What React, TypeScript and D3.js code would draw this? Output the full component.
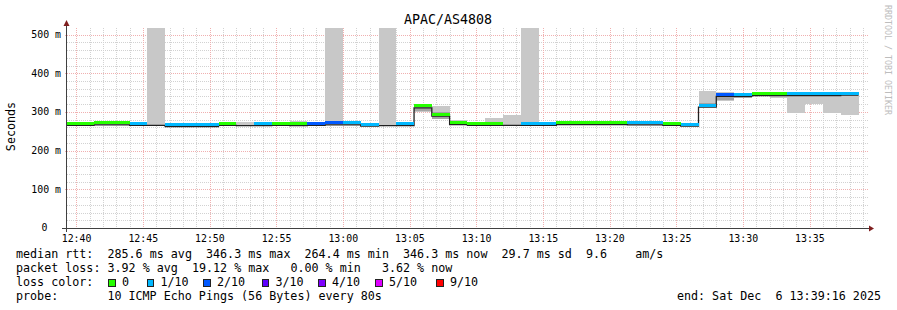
import React from 'react';
import * as d3 from 'd3';

// ---------- data ----------
const TITLE = 'APAC/AS4808';
const START = new Date(2025, 11, 6, 12, 39, 16);
const END = new Date(2025, 11, 6, 13, 39, 16);
const FIRST_STEP = new Date(2025, 11, 6, 12, 38, 40);
const STEP_SECONDS = 80;
const Y_MAX = 517;

// median rtt (ms) per 80 s step
const medians = [
  268, 268, 269, 269, 268, 268, 265, 265, 265, 268,
  267, 267, 268, 267, 268, 269, 269, 266, 267, 267,
  313, 292, 270, 268, 268, 268, 268, 268, 270, 270,
  270, 270, 269, 269, 268, 266, 315, 343, 343, 345,
  345, 345, 345, 345, 346.3,
];
// loss colour index per step (null = band hidden)
const lossIdx: (number | null)[] = [
  0, 0, 0, 0, 1, null, 1, 1, 1, 0,
  null, 1, 0, 0, 2, 2, 1, 1, null, 1,
  0, 0, 0, 0, 0, null, 1, 1, 0, 0,
  0, 0, 1, 1, 0, 1, 1, 2, 1, 0,
  0, 1, 1, 1, 1,
];
// smoke range (ms)
const smokeLo = [
  266, 266, 266, 266, 265, 265, 263, 263, 263, 265,
  265, 265, 265, 265, 265, 265, 265, 264, 265, 265,
  299, 282, 267, 266, 266, 266, 266, 266, 267, 267,
  267, 267, 266, 266, 266, 264, 312, 328, 335, 343,
  335, 298, 320, 298, 293,
];
const smokeHi = [
  272, 274, 274, 272, 271, 600, 270, 270, 270, 272,
  274, 275, 275, 276, 273, 600, 272, 271, 600, 271,
  317, 316, 280, 272, 285, 293, 600, 272, 273, 277,
  277, 273, 272, 272, 271, 268, 355, 352, 345, 347,
  347, 347, 347, 347, 347,
];
const innerLo: (number | null)[] = [
  null, null, null, null, null, null, null, null, null, null,
  null, null, null, null, null, null, null, null, null, null,
  303, 283, null, null, null, null, null, null, null, null,
  null, null, null, null, null, null, 313, 330, 336, null,
  null, null, null, null, null,
];
const innerHi: (number | null)[] = [
  null, null, null, null, null, null, null, null, null, null,
  null, null, null, null, null, null, null, null, null, null,
  309, 300, null, null, null, null, null, null, null, null,
  null, null, null, null, null, null, 322, 350, 342, null,
  null, null, null, null, null,
];

const lossLabels = ['0', '1/10', '2/10', '3/10', '4/10', '5/10', '9/10'];
const lossColors = ['#26ff00', '#00b8ff', '#0059ff', '#5e00ff', '#7e00ff', '#dd00ff', '#ff0000'];
const yTicks = [0, 100, 200, 300, 400, 500];
const yTickLabels = ['0', '100 m', '200 m', '300 m', '400 m', '500 m'];
const legendLines = [
  'median rtt:  285.6 ms avg  346.3 ms max  264.4 ms min  346.3 ms now  29.7 ms sd  9.6    am/s',
  'packet loss: 3.92 % avg  19.12 % max   0.00 % min   3.62 % now',
];
const lossTitle = 'loss color:';
const probeLabel = 'probe:';
const probeText = '10 ICMP Echo Pings (56 Bytes) every 80s';
const endText = 'end: Sat Dec  6 13:39:16 2025';
const watermark = 'RRDTOOL / TOBI OETIKER';
const yTitle = 'Seconds';

// ---------- layout ----------
const W = 897;
const H = 310;
const L = 66.5;
const R = 866.5;
const T = 28;
const B = 228;
const MONO = "'DejaVu Sans Mono', monospace";

const legendBoxX = [108, 146.5, 203, 261.5, 318, 375, 436];

export default function App() {
  const x = d3.scaleTime().domain([START, END]).range([L, R]);
  const y = d3.scaleLinear().domain([0, Y_MAX]).range([B, T]);

  const steps = medians.map((m, i) => {
    const t0 = new Date(FIRST_STEP.getTime() + i * STEP_SECONDS * 1000);
    const t1 = new Date(t0.getTime() + STEP_SECONDS * 1000);
    return { t0, t1, m, loss: lossIdx[i], lo: smokeLo[i], hi: smokeHi[i], ilo: innerLo[i], ihi: innerHi[i] };
  });

  const minutes = d3.timeMinute.range(START, END);
  const majorX = minutes.filter((d) => d.getMinutes() % 5 === 0);
  const minorX = minutes.filter((d) => d.getMinutes() % 5 !== 0);
  const minorY = d3.range(20, Y_MAX, 20).filter((v) => v % 100 !== 0);
  const majorY = d3.range(100, Y_MAX, 100);
  const fmt = d3.timeFormat('%H:%M');

  const pts: [number, number][] = steps.map((s) => [x(s.t0), y(s.m)]);
  const last = steps[steps.length - 1];
  pts.push([x(last.t1), y(last.m)]);
  const medianPath = d3.line().curve(d3.curveStepAfter)(pts) || '';

  const snap = (v: number) => Math.round(v) + 0.5;

  return (
    <svg
      width={W}
      height={H}
      viewBox={`0 0 ${W} ${H}`}
      style={{ position: 'absolute', left: 0, top: 0, background: '#fff' }}
      fontFamily={MONO}
    >
      <defs>
        <clipPath id="plot">
          <rect x={L} y={T} width={R - L} height={B - T} />
        </clipPath>
      </defs>
      <rect x={0} y={0} width={W} height={H} fill="#ffffff" />

      {/* grid */}
      <g shapeRendering="crispEdges">
        {minorY.map((v) => (
          <line key={'my' + v} x1={L} x2={R + 2} y1={snap(y(v))} y2={snap(y(v))} stroke="#d2d2d2" strokeDasharray="1,1" />
        ))}
        {minorX.map((d) => (
          <line key={'mx' + d.getTime()} x1={snap(x(d))} x2={snap(x(d))} y1={T} y2={B} stroke="#d2d2d2" strokeDasharray="1,1" />
        ))}
        {majorY.map((v) => (
          <line key={'My' + v} x1={L - 2} x2={R + 2} y1={snap(y(v))} y2={snap(y(v))} stroke="#f0b0b0" strokeDasharray="1,1" />
        ))}
        {majorX.map((d) => (
          <line key={'Mx' + d.getTime()} x1={snap(x(d))} x2={snap(x(d))} y1={T} y2={B + 2} stroke="#f0b0b0" strokeDasharray="1,1" />
        ))}
      </g>

      {/* smoke */}
      <g clipPath="url(#plot)" shapeRendering="crispEdges">
        {steps.map((s, i) => (
          <rect key={'s' + i} x={x(s.t0)} width={x(s.t1) - x(s.t0)} y={y(s.hi)} height={y(s.lo) - y(s.hi)} fill="#c8c8c8" />
        ))}
        {steps.map((s, i) =>
          s.ilo != null && s.ihi != null ? (
            <rect key={'i' + i} x={x(s.t0)} width={x(s.t1) - x(s.t0)} y={y(s.ihi)} height={y(s.ilo) - y(s.ihi)} fill="#a4a4a4" />
          ) : null
        )}
      </g>

      {/* median line and loss bands */}
      <g clipPath="url(#plot)">
        <path d={medianPath} transform="translate(0,1)" fill="none" stroke="#202020" strokeWidth={1.3} />
        {steps.map((s, i) =>
          s.loss != null ? (
            <rect
              key={'b' + i}
              x={x(s.t0)}
              width={x(s.t1) - x(s.t0)}
              y={y(s.m) - 2.5}
              height={3}
              fill={lossColors[s.loss]}
              shapeRendering="crispEdges"
            />
          ) : null
        )}
      </g>

      {/* axes */}
      <g shapeRendering="crispEdges" stroke="#404040">
        <line x1={62} x2={869} y1={B + 0.5} y2={B + 0.5} />
        <line x1={L} x2={L} y1={24} y2={B + 4} />
      </g>
      <path d={`M${869},${B - 2.5} L${874},${B + 0.5} L${869},${B + 3.5} Z`} fill="#7f1f1f" />
      <path d={`M${L - 3},${26} L${L},${20} L${L + 3},${26} Z`} fill="#7f1f1f" />

      {/* tick labels */}
      <g fontSize={9.9} fill="#000">
        {yTicks.map((v, i) => (
          <text key={'yt' + v} x={v === 0 ? 47.5 : 61} y={y(v) + 3.3} textAnchor="end" style={{ whiteSpace: 'pre' }}>
            {yTickLabels[i]}
          </text>
        ))}
        {majorX.map((d) => (
          <text key={'xt' + d.getTime()} x={x(d) + 0.3} y={241.5} textAnchor="middle">
            {fmt(d)}
          </text>
        ))}
      </g>

      {/* title */}
      <text x={448} y={24} textAnchor="middle" fontSize={13.3} fill="#000">
        {TITLE}
      </text>

      {/* y title */}
      <text transform="translate(14.5,126.5) rotate(-90)" textAnchor="middle" fontSize={11.7} fill="#000">
        {yTitle}
      </text>

      {/* watermark */}
      <text transform="translate(885,5) rotate(90)" fontSize={8.3} fill="#bdbdbd">
        {watermark}
      </text>

      {/* legend */}
      <g fontSize={11.7} fill="#000" style={{ whiteSpace: 'pre' }}>
        <text x={16} y={258} xmlSpace="preserve">{legendLines[0]}</text>
        <text x={16} y={272} xmlSpace="preserve">{legendLines[1]}</text>
        <text x={16} y={286}>{lossTitle}</text>
        {lossLabels.map((lab, i) => (
          <g key={'lg' + i}>
            <rect x={legendBoxX[i] + 0.5} y={279.5} width={6.5} height={6.5} fill={lossColors[i]} stroke="#222" strokeWidth={1} shapeRendering="crispEdges" />
            <text x={legendBoxX[i] + 14} y={286}>{lab}</text>
          </g>
        ))}
        <text x={16} y={300}>{probeLabel}</text>
        <text x={107.4} y={300}>{probeText}</text>
        <text x={881} y={300} textAnchor="end" xmlSpace="preserve">{endText}</text>
      </g>
    </svg>
  );
}
